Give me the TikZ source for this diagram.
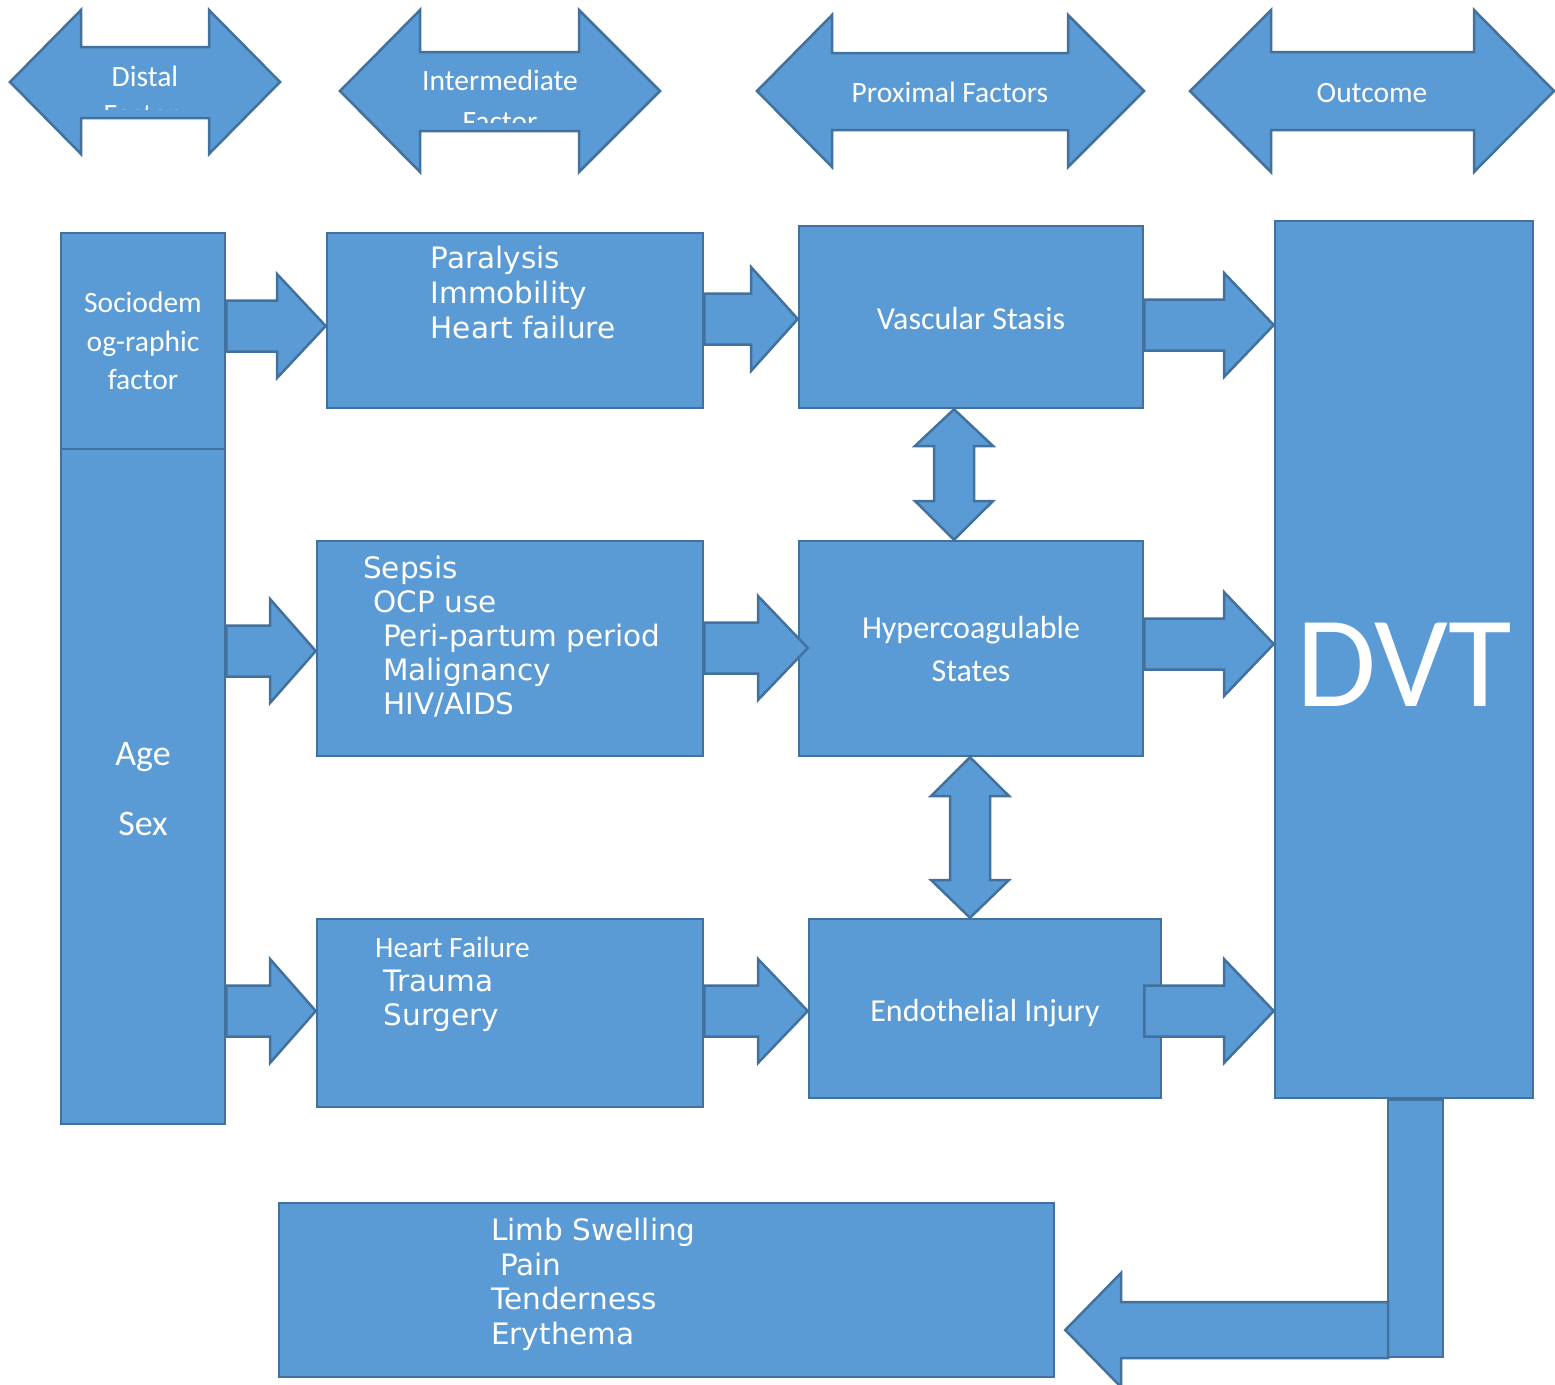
\documentclass[tikz,border=0pt]{standalone}
\usepackage{fontspec}
\setmainfont{Carlito}
\newfontfamily\listfont{DejaVu Sans}
\usetikzlibrary{calc}
\definecolor{boxfill}{HTML}{5B9BD5}
\definecolor{boxedge}{HTML}{41719C}
\tikzset{
  box/.style={draw=boxedge, fill=boxfill, line width=2.5pt, inner sep=0pt, text=white, align=center},
  blk/.style={draw=boxedge, fill=boxfill, line width=2.5pt},
  lbl/.style={text=white, inner sep=0pt, font=\fontsize{29.5}{36}\selectfont},
  lst/.style={text=white, inner sep=0pt, anchor=base west, font=\listfont\fontsize{29.5}{35}\selectfont},
}
% block arrow to the right: from, to, centre y, notch x
\newcommand{\rblock}[4]{%
  \draw[blk] (#1 |- 0,#3-25.5) -- (#4,#3-25.5) -- (#4,#3-52) -- (#2 |- 0,#3)
    -- (#4,#3+52) -- (#4,#3+25.5) -- (#1 |- 0,#3+25.5) -- cycle;}
% vertical double block arrow: upper, lower, centre x, upper head base, lower head base
\newcommand{\vblock}[5]{%
  \draw[blk] (#3,0 |- #1) -- (#3+39,#4) -- (#3+20,#4) -- (#3+20,#5) -- (#3+39,#5)
    -- (#3,0 |- #2) -- (#3-39,#5) -- (#3-20,#5) -- (#3-20,#4) -- (#3-39,#4) -- cycle;}
\begin{document}
\begin{tikzpicture}[x=1pt, y=-1pt]
  \useasboundingbox (0,0) rectangle (1555,1384);

  % column headers
  \foreach \xl/\xa/\xb/\xr/\yc/\hh/\st/\sb in {10/81/209/280/82/72/47/118, 340/420/579/660/91/81/52/131,
      757/832/1068/1144/91/76/53/130, 1190/1271/1474/1554/91/81/52/130}
    \draw[blk] (\xl,\yc) -- (\xa,\yc-\hh) -- (\xa,\st) -- (\xb,\st) -- (\xb,\yc-\hh) -- (\xr,\yc)
      -- (\xb,\yc+\hh) -- (\xb,\sb) -- (\xa,\sb) -- (\xa,\yc+\hh) -- cycle;

  \node[lbl, anchor=base] (distal) at (145,86) {Distal};
  \node[lbl, anchor=base] (inter) at (500,90) {Intermediate};
  \node[lbl, anchor=base] (prox) at (950,102) {Proximal Factors};
  \node[lbl, anchor=base] (outc) at (1372,102) {Outcome};
  % second lines, cut off
  \begin{scope}
    \clip (0,0) rectangle (300,109);
    \node[lbl, anchor=base] (distalb) at (141,124) {Factor};
  \end{scope}
  \begin{scope}
    \clip (330,0) rectangle (670,122);
    \node[lbl, anchor=base] (interb) at (500,131) {Factor};
  \end{scope}

  % boxes
  \node[box, minimum width=164, minimum height=216, font=\fontsize{29.5}{38.5}\selectfont] (soc) at (143,341) {Sociodem\\og-raphic\\factor};
  \node[box, minimum width=164, minimum height=675] (age) at (143,786.5) {};
  \node[lbl, align=center, font=\fontsize{36}{70}\selectfont] (agetxt) at (143,789) {Age\\Sex};
  \node[box, minimum width=376, minimum height=175] (par) at (515,320.5) {};
  \node[box, minimum width=344, minimum height=182, text height=24, text depth=0, font=\fontsize{32}{38}\selectfont] (vas) at (971,317) {Vascular Stasis};
  \node[box, minimum width=386, minimum height=215] (sep) at (510,648.5) {};
  \node[box, minimum width=344, minimum height=215, font=\fontsize{32}{43}\selectfont] (hyp) at (971,648.5) {Hypercoagulable\\States};
  \node[box, minimum width=386, minimum height=188] (hf) at (510,1013) {};
  \node[box, minimum width=352, minimum height=179, text height=25, text depth=0, font=\fontsize{32}{38}\selectfont] (endo) at (985,1008.5) {Endothelial Injury};
  \node[box, minimum width=258, minimum height=877, text height=93, text depth=0, font=\fontsize{130}{130}\selectfont] (dvt) at (1404,659.5) {DVT};
  \node[box, minimum width=775, minimum height=174] (limb) at (666.5,1290) {};

  % lists
  \foreach \t [count=\i from 0] in {Paralysis, Immobility, Heart failure}
    \node[lst] (par\i) at (430.5,268.5+35*\i) {\t};
  \foreach \x/\t [count=\i from 0] in {363/Sepsis, 373.5/OCP use, 383/Peri-partum period, 383/Malignancy, 383/{HIV/AIDS}}
    \node[lst] (sep\i) at (\x,578+34*\i) {\t};
  \node[lbl, anchor=base west] (hf0) at (375,957) {Heart Failure};
  \node[lst] (hf1) at (383.5,991.5) {Trauma};
  \node[lst] (hf2) at (383.5,1025.5) {Surgery};
  \foreach \x/\t [count=\i from 0] in {491/Limb Swelling, 500/Pain, 491/Tenderness, 491/Erythema}
    \node[lst] (limb\i) at (\x,1240.5+34.5*\i) {\t};

  % arrows
  \coordinate (hypin) at ($(hyp.west)+(10,0)$);
  \coordinate (endoout) at ($(endo.east)+(-18,0)$);
  \coordinate (limbin) at ($(limb.east)+(10,0)$);
  \rblock{soc.east}{par.west}{326}{277}
  \rblock{par.east}{vas.west}{319}{751}
  \rblock{vas.east}{dvt.west}{325}{1224}
  \rblock{age.east}{sep.west}{651}{270}
  \rblock{sep.east}{hypin}{648}{758}
  \rblock{hyp.east}{dvt.west}{644}{1224}
  \rblock{age.east}{hf.west}{1011}{270}
  \rblock{hf.east}{endo.west}{1011}{758}
  \rblock{endoout}{dvt.west}{1011}{1224}
  \vblock{vas.south}{hyp.north}{954}{446}{501}
  \vblock{hyp.south}{endo.north}{970}{796}{880}

  % DVT to signs
  \draw[blk] (dvt.south -| 1388,0) rectangle (1443,1357);
  \draw[blk] (1388,1302) -- (1121,1302) -- (1121,1273) -- (limbin |- 0,1330) -- (1121,1387)
    -- (1121,1358) -- (1388,1358) -- cycle;
\end{tikzpicture}
\end{document}
